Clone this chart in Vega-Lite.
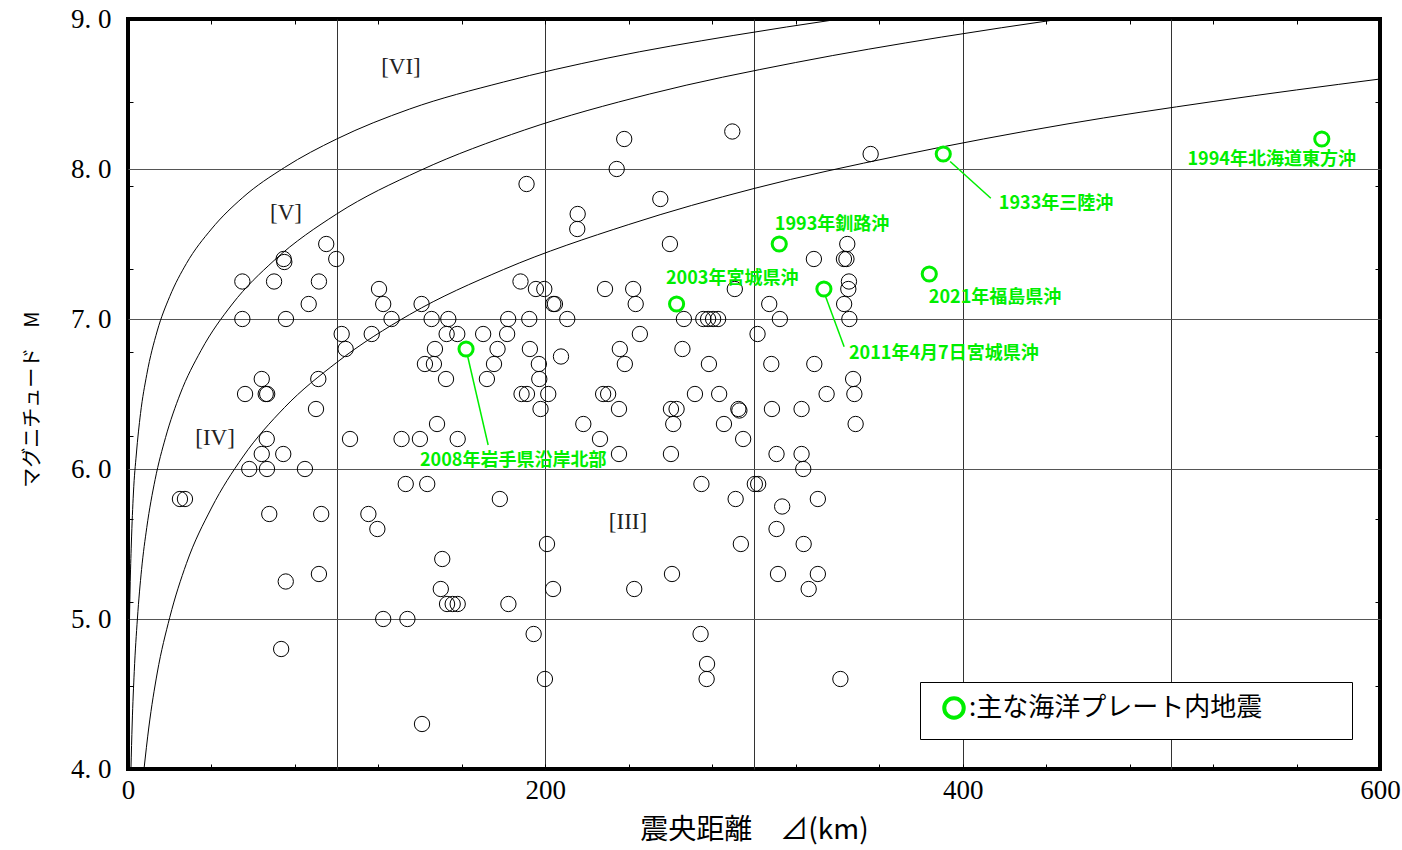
{
  "$schema": "https://vega.github.io/schema/vega-lite/v6.json",
  "width": 1252,
  "height": 750,
  "autosize": {"type": "none"},
  "padding": {"left": 128, "top": 19, "right": 22, "bottom": 81},
  "background": "white",
  "config": {
    "view": {"stroke": "black", "strokeWidth": 4},
    "font": "Liberation Serif"
  },
  "datasets": {
    "curves": [
      {"curve": "c1", "d": 0.16, "m": 4.0}, {"curve": "c1", "d": 0.3, "m": 4.42}, {"curve": "c1", "d": 0.6, "m": 4.87}, {"curve": "c1", "d": 1, "m": 5.2}, {"curve": "c1", "d": 1.6, "m": 5.5}, {"curve": "c1", "d": 2.6, "m": 5.84}, {"curve": "c1", "d": 4, "m": 6.1}, {"curve": "c1", "d": 6, "m": 6.37}, {"curve": "c1", "d": 9, "m": 6.63}, {"curve": "c1", "d": 14, "m": 6.92}, {"curve": "c1", "d": 20, "m": 7.15}, {"curve": "c1", "d": 28, "m": 7.37}, {"curve": "c1", "d": 40, "m": 7.6}, {"curve": "c1", "d": 55, "m": 7.81}, {"curve": "c1", "d": 75, "m": 8.01}, {"curve": "c1", "d": 100, "m": 8.2}, {"curve": "c1", "d": 135, "m": 8.4}, {"curve": "c1", "d": 180, "m": 8.58}, {"curve": "c1", "d": 230, "m": 8.74}, {"curve": "c1", "d": 290, "m": 8.89}, {"curve": "c1", "d": 341, "m": 9.0},
      {"curve": "c2", "d": 1.41, "m": 4.0}, {"curve": "c2", "d": 2, "m": 4.3}, {"curve": "c2", "d": 3, "m": 4.65}, {"curve": "c2", "d": 4.5, "m": 5.0}, {"curve": "c2", "d": 6.5, "m": 5.33}, {"curve": "c2", "d": 9, "m": 5.61}, {"curve": "c2", "d": 13, "m": 5.93}, {"curve": "c2", "d": 18, "m": 6.21}, {"curve": "c2", "d": 25, "m": 6.5}, {"curve": "c2", "d": 35, "m": 6.79}, {"curve": "c2", "d": 50, "m": 7.1}, {"curve": "c2", "d": 70, "m": 7.39}, {"curve": "c2", "d": 100, "m": 7.7}, {"curve": "c2", "d": 140, "m": 7.99}, {"curve": "c2", "d": 190, "m": 8.26}, {"curve": "c2", "d": 250, "m": 8.5}, {"curve": "c2", "d": 320, "m": 8.71}, {"curve": "c2", "d": 390, "m": 8.88}, {"curve": "c2", "d": 447, "m": 9.0},
      {"curve": "c3", "d": 7.67, "m": 4.0}, {"curve": "c3", "d": 10, "m": 4.28}, {"curve": "c3", "d": 14, "m": 4.64}, {"curve": "c3", "d": 20, "m": 5.01}, {"curve": "c3", "d": 28, "m": 5.37}, {"curve": "c3", "d": 40, "m": 5.74}, {"curve": "c3", "d": 55, "m": 6.08}, {"curve": "c3", "d": 75, "m": 6.41}, {"curve": "c3", "d": 100, "m": 6.71}, {"curve": "c3", "d": 135, "m": 7.03}, {"curve": "c3", "d": 180, "m": 7.33}, {"curve": "c3", "d": 240, "m": 7.63}, {"curve": "c3", "d": 300, "m": 7.87}, {"curve": "c3", "d": 370, "m": 8.09}, {"curve": "c3", "d": 450, "m": 8.3}, {"curve": "c3", "d": 520, "m": 8.45}, {"curve": "c3", "d": 600, "m": 8.6}
    ],
    "quakes": [
      {"d": 24.9, "m": 5.8}, {"d": 27.3, "m": 5.8}, {"d": 54.8, "m": 7.25}, {"d": 54.8, "m": 7.0}, {"d": 70.0, "m": 7.25}, {"d": 74.6, "m": 7.4}, {"d": 74.9, "m": 7.38}, {"d": 75.7, "m": 7.0}, {"d": 86.6, "m": 7.1}, {"d": 91.5, "m": 7.25},
      {"d": 95.0, "m": 7.5}, {"d": 99.8, "m": 7.4}, {"d": 102.4, "m": 6.9}, {"d": 104.3, "m": 6.8}, {"d": 116.8, "m": 6.9}, {"d": 120.3, "m": 7.2}, {"d": 122.3, "m": 7.1}, {"d": 126.3, "m": 7.0}, {"d": 140.7, "m": 7.1}, {"d": 145.5, "m": 7.0},
      {"d": 153.5, "m": 7.0}, {"d": 152.7, "m": 6.9}, {"d": 157.8, "m": 6.9}, {"d": 147.1, "m": 6.8}, {"d": 142.3, "m": 6.7}, {"d": 146.6, "m": 6.7}, {"d": 152.4, "m": 6.6}, {"d": 64.1, "m": 6.6}, {"d": 56.1, "m": 6.5}, {"d": 66.0, "m": 6.5},
      {"d": 66.7, "m": 6.5}, {"d": 91.2, "m": 6.6}, {"d": 90.1, "m": 6.4}, {"d": 170.2, "m": 6.9}, {"d": 182.2, "m": 7.0}, {"d": 181.7, "m": 6.9}, {"d": 177.1, "m": 6.8}, {"d": 175.4, "m": 6.7}, {"d": 172.0, "m": 6.6}, {"d": 188.1, "m": 7.25},
      {"d": 195.5, "m": 7.2}, {"d": 199.5, "m": 7.2}, {"d": 192.3, "m": 7.0}, {"d": 192.6, "m": 6.8}, {"d": 196.9, "m": 6.7}, {"d": 197.1, "m": 6.6}, {"d": 188.6, "m": 6.5}, {"d": 191.2, "m": 6.5}, {"d": 201.4, "m": 6.5}, {"d": 197.7, "m": 6.4},
      {"d": 207.5, "m": 6.75}, {"d": 210.5, "m": 7.0}, {"d": 203.8, "m": 7.1}, {"d": 204.6, "m": 7.1}, {"d": 228.6, "m": 7.2}, {"d": 242.1, "m": 7.2}, {"d": 243.3, "m": 7.1}, {"d": 235.7, "m": 6.8}, {"d": 238.1, "m": 6.7}, {"d": 245.3, "m": 6.9},
      {"d": 227.7, "m": 6.5}, {"d": 230.1, "m": 6.5}, {"d": 235.3, "m": 6.4}, {"d": 218.2, "m": 6.3}, {"d": 226.2, "m": 6.2}, {"d": 235.3, "m": 6.1}, {"d": 237.8, "m": 8.2}, {"d": 289.6, "m": 8.25}, {"d": 234.2, "m": 8.0}, {"d": 191.0, "m": 7.9},
      {"d": 255.1, "m": 7.8}, {"d": 215.5, "m": 7.7}, {"d": 215.3, "m": 7.6}, {"d": 259.7, "m": 7.5}, {"d": 355.9, "m": 8.1}, {"d": 328.7, "m": 7.4}, {"d": 344.7, "m": 7.5}, {"d": 343.1, "m": 7.4}, {"d": 344.3, "m": 7.4}, {"d": 290.8, "m": 7.2},
      {"d": 307.3, "m": 7.1}, {"d": 345.5, "m": 7.25}, {"d": 345.2, "m": 7.2}, {"d": 343.2, "m": 7.1}, {"d": 345.7, "m": 7.0}, {"d": 312.4, "m": 7.0}, {"d": 301.7, "m": 6.9}, {"d": 266.4, "m": 7.0}, {"d": 275.7, "m": 7.0}, {"d": 278.0, "m": 7.0},
      {"d": 280.4, "m": 7.0}, {"d": 282.8, "m": 7.0}, {"d": 265.7, "m": 6.8}, {"d": 278.4, "m": 6.7}, {"d": 260.2, "m": 6.4}, {"d": 262.9, "m": 6.4}, {"d": 261.3, "m": 6.3}, {"d": 271.7, "m": 6.5}, {"d": 283.3, "m": 6.5}, {"d": 285.6, "m": 6.3},
      {"d": 292.5, "m": 6.4}, {"d": 293.0, "m": 6.39}, {"d": 294.8, "m": 6.2}, {"d": 260.2, "m": 6.1}, {"d": 274.8, "m": 5.9}, {"d": 302.0, "m": 5.9}, {"d": 300.4, "m": 5.9}, {"d": 291.2, "m": 5.8}, {"d": 308.3, "m": 6.7}, {"d": 328.9, "m": 6.7},
      {"d": 308.6, "m": 6.4}, {"d": 322.8, "m": 6.4}, {"d": 334.8, "m": 6.5}, {"d": 310.8, "m": 6.1}, {"d": 322.8, "m": 6.1}, {"d": 323.6, "m": 6.0}, {"d": 347.5, "m": 6.6}, {"d": 348.1, "m": 6.5}, {"d": 348.7, "m": 6.3}, {"d": 148.1, "m": 6.3},
      {"d": 106.4, "m": 6.2}, {"d": 131.1, "m": 6.2}, {"d": 139.9, "m": 6.2}, {"d": 158.0, "m": 6.2}, {"d": 66.5, "m": 6.2}, {"d": 64.1, "m": 6.1}, {"d": 74.4, "m": 6.1}, {"d": 58.1, "m": 6.0}, {"d": 66.6, "m": 6.0}, {"d": 84.8, "m": 6.0},
      {"d": 133.1, "m": 5.9}, {"d": 143.4, "m": 5.9}, {"d": 178.2, "m": 5.8}, {"d": 67.7, "m": 5.7}, {"d": 92.6, "m": 5.7}, {"d": 115.2, "m": 5.7}, {"d": 119.5, "m": 5.6}, {"d": 150.6, "m": 5.4}, {"d": 149.9, "m": 5.2}, {"d": 152.9, "m": 5.1},
      {"d": 155.6, "m": 5.1}, {"d": 158.0, "m": 5.1}, {"d": 182.3, "m": 5.1}, {"d": 75.6, "m": 5.25}, {"d": 91.5, "m": 5.3}, {"d": 122.3, "m": 5.0}, {"d": 133.9, "m": 5.0}, {"d": 73.4, "m": 4.8}, {"d": 140.9, "m": 4.3}, {"d": 194.4, "m": 4.9},
      {"d": 200.8, "m": 5.5}, {"d": 203.7, "m": 5.2}, {"d": 199.8, "m": 4.6}, {"d": 242.6, "m": 5.2}, {"d": 260.7, "m": 5.3}, {"d": 274.4, "m": 4.9}, {"d": 277.5, "m": 4.7}, {"d": 277.3, "m": 4.6}, {"d": 293.7, "m": 5.5}, {"d": 310.8, "m": 5.6},
      {"d": 313.5, "m": 5.75}, {"d": 330.6, "m": 5.8}, {"d": 323.8, "m": 5.5}, {"d": 311.5, "m": 5.3}, {"d": 330.6, "m": 5.3}, {"d": 326.2, "m": 5.2}, {"d": 341.4, "m": 4.6}
    ],
    "major": [
      {"d": 162.0, "m": 6.8, "type": "主な海洋プレート内地震"},
      {"d": 262.9, "m": 7.1, "type": "主な海洋プレート内地震"},
      {"d": 312.1, "m": 7.5, "type": "主な海洋プレート内地震"},
      {"d": 333.5, "m": 7.2, "type": "主な海洋プレート内地震"},
      {"d": 384.0, "m": 7.3, "type": "主な海洋プレート内地震"},
      {"d": 390.7, "m": 8.1, "type": "主な海洋プレート内地震"},
      {"d": 572.1, "m": 8.2, "type": "主な海洋プレート内地震"}
    ],
    "labels": [
      {"d": 139.9, "m": 6.055, "label": "2008年岩手県沿岸北部"},
      {"d": 257.8, "m": 7.27, "label": "2003年宮城県沖"},
      {"d": 310.0, "m": 7.63, "label": "1993年釧路沖"},
      {"d": 345.5, "m": 6.77, "label": "2011年4月7日宮城県沖"},
      {"d": 383.8, "m": 7.14, "label": "2021年福島県沖"},
      {"d": 417.3, "m": 7.77, "label": "1933年三陸沖"},
      {"d": 507.7, "m": 8.06, "label": "1994年北海道東方沖"}
    ],
    "leaders": [
      {"d": 162.8, "m": 6.75, "d2": 172.6, "m2": 6.16},
      {"d": 334.3, "m": 7.15, "d2": 343.2, "m2": 6.815},
      {"d": 394.0, "m": 8.05, "d2": 413.5, "m2": 7.805}
    ],
    "regions": [
      {"d": 130.8, "m": 8.68, "label": "[VI]"},
      {"d": 75.7, "m": 7.71, "label": "[V]"},
      {"d": 41.7, "m": 6.21, "label": "[IV]"},
      {"d": 239.6, "m": 5.65, "label": "[III]"}
    ]
  },
  "resolve": {"axis": {"x": "independent", "y": "independent"}},
  "layer": [
    {
      "data": {"name": "curves"},
      "mark": {"type": "line", "interpolate": "monotone", "stroke": "black", "strokeWidth": 1},
      "encoding": {
        "x": {"field": "d", "type": "quantitative", "scale": {"domain": [0, 600], "nice": false, "zero": false}, "axis": null},
        "y": {"field": "m", "type": "quantitative", "scale": {"domain": [4, 9], "nice": false, "zero": false}, "axis": null},
        "detail": {"field": "curve", "type": "nominal"},
        "order": {"field": "d", "type": "quantitative"}
      }
    },
    {
      "data": {"name": "quakes"},
      "mark": {"type": "point", "shape": "circle", "filled": false, "stroke": "black", "strokeWidth": 1, "size": 235, "opacity": 1},
      "encoding": {
        "x": {
          "field": "d", "type": "quantitative",
          "axis": {
            "orient": "bottom",
            "values": [0, 40, 80, 100, 120, 160, 200, 240, 280, 300, 320, 360, 400, 440, 480, 500, 520, 560, 600],
            "title": "震央距離　⊿(km)",
            "grid": true,
            "gridColor": "#333333",
            "gridWidth": 1,
            "gridOpacity": {"condition": {"test": "datum.value % 100 === 0 && datum.value > 0 && datum.value < 600", "value": 1}, "value": 0},
            "ticks": true,
            "tickSize": -5,
            "tickColor": "black",
            "tickWidth": 1,
            "tickOpacity": {"condition": {"test": "datum.value % 40 === 0 && datum.value > 0 && datum.value < 600", "value": 1}, "value": 0},
            "domain": false,
            "format": "d",
            "labelExpr": "datum.value % 200 === 0 ? datum.label : ''",
            "labelFont": "Liberation Serif",
            "labelFontSize": 27,
            "labelColor": "black",
            "labelPadding": 13,
            "labelOverlap": false,
            "labelFlush": false,
            "titleFont": "Noto Sans CJK JP",
            "titleFontSize": 28,
            "titleFontWeight": "normal",
            "titleColor": "black",
            "titlePadding": 13
          }
        },
        "y": {
          "field": "m", "type": "quantitative",
          "axis": {
            "orient": "left",
            "values": [4, 4.5556, 5, 5.1111, 5.6667, 6, 6.2222, 6.7778, 7, 7.3333, 7.8889, 8, 8.4444, 9],
            "title": "マグニチュード　M",
            "grid": true,
            "gridColor": "#555555",
            "gridWidth": 1.2,
            "gridOpacity": {"condition": {"test": "datum.value % 1 === 0 && datum.value > 4 && datum.value < 9", "value": 1}, "value": 0},
            "ticks": true,
            "tickSize": -5,
            "tickColor": "black",
            "tickWidth": 1,
            "tickOpacity": {"condition": {"test": "datum.value % 1 !== 0", "value": 1}, "value": 0},
            "domain": false,
            "labelExpr": "datum.value % 1 === 0 ? replace(format(datum.value, '.1f'), '.', '. ') : ''",
            "labelFont": "Liberation Serif",
            "labelFontSize": 27,
            "labelColor": "black",
            "labelPadding": 22,
            "labelOverlap": false,
            "labelFlush": false,
            "titleFont": "Noto Sans CJK JP",
            "titleFontSize": 20,
            "titleFontWeight": "normal",
            "titleColor": "black",
            "titlePadding": 28,
            "titleY": 380
          }
        }
      }
    },
    {
      "data": {"name": "leaders"},
      "mark": {"type": "rule", "stroke": "#00EE00", "strokeWidth": 1.5},
      "encoding": {
        "x": {"field": "d", "type": "quantitative", "axis": null},
        "y": {"field": "m", "type": "quantitative", "axis": null},
        "x2": {"field": "d2"},
        "y2": {"field": "m2"}
      }
    },
    {
      "data": {"name": "major"},
      "mark": {"type": "point", "shape": "circle", "filled": false, "strokeWidth": 3, "size": 200, "opacity": 1},
      "encoding": {
        "x": {
          "field": "d", "type": "quantitative",
          "axis": {
            "orient": "top",
            "values": [40, 80, 120, 160, 200, 240, 280, 320, 360, 400, 440, 480, 520, 560],
            "title": null,
            "grid": false,
            "labels": false,
            "domain": false,
            "ticks": true,
            "tickSize": -5,
            "tickColor": "black",
            "tickWidth": 1
          }
        },
        "y": {
          "field": "m", "type": "quantitative",
          "axis": {
            "orient": "right",
            "values": [4.5556, 5.1111, 5.6667, 6.2222, 6.7778, 7.3333, 7.8889, 8.4444],
            "title": null,
            "grid": false,
            "labels": false,
            "domain": false,
            "ticks": true,
            "tickSize": -5,
            "tickColor": "black",
            "tickWidth": 1
          }
        },
        "stroke": {
          "field": "type", "type": "nominal",
          "scale": {"range": ["#00EE00"]},
          "legend": {
            "orient": "none",
            "legendX": 792,
            "legendY": 663,
            "title": null,
            "padding": 13,
            "symbolOffset": 8,
            "strokeColor": "black",
            "fillColor": "white",
            "cornerRadius": 0,
            "symbolType": "circle",
            "symbolSize": 380,
            "symbolStrokeWidth": 4,
            "symbolStrokeColor": "#00EE00",
            "symbolFillColor": "transparent",
            "labelFont": "Noto Sans CJK JP",
            "labelFontSize": 26,
            "labelColor": "black",
            "labelOffset": 2,
            "labelLimit": 1000,
            "labelExpr": "':' + datum.label + '\u2800\u2800\u2800\u2800'"
          }
        }
      }
    },
    {
      "data": {"name": "labels"},
      "mark": {"type": "text", "align": "left", "baseline": "middle", "font": "Noto Sans CJK JP", "fontWeight": "bold", "fontSize": 18, "fill": "#00EE00"},
      "encoding": {
        "x": {"field": "d", "type": "quantitative", "axis": null},
        "y": {"field": "m", "type": "quantitative", "axis": null},
        "text": {"field": "label", "type": "nominal"}
      }
    },
    {
      "data": {"name": "regions"},
      "mark": {"type": "text", "align": "center", "baseline": "middle", "font": "Liberation Serif", "fontSize": 23, "fill": "#222222"},
      "encoding": {
        "x": {"field": "d", "type": "quantitative", "axis": null},
        "y": {"field": "m", "type": "quantitative", "axis": null},
        "text": {"field": "label", "type": "nominal"}
      }
    }
  ]
}
